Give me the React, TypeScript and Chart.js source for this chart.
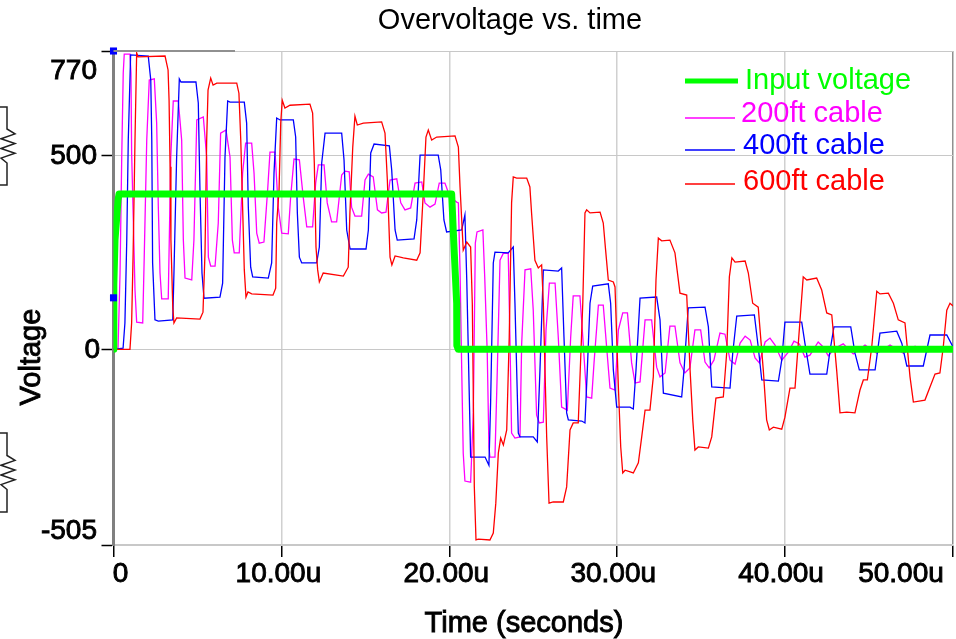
import React, { useEffect, useRef } from "react";
import { Chart, registerables } from "chart.js";

Chart.register(...registerables);

const titleText = "Overvoltage vs. time";
const xAxisLabel = "Time (seconds)";
const yAxisLabel = "Voltage";
const xTickValues = [0, 10, 20, 30, 40, 50];
const xTickLabels = ["0", "10.00u", "20.00u", "30.00u", "40.00u", "50.00u"];
const yTickValues = [-505, 0, 500, 770];
const yTickLabels = ["-505", "0", "500", "770"];
const legendLabels = ["Input voltage", "200ft cable", "400ft cable", "600ft cable"];

const tInput = [0, 0.02, 0.09, 0.27, 0.33, 20.14, 20.28, 20.44, 20.45, 20.53, 50];
const vInput = [0, 166, 282, 385, 401, 401, 264, 119, 10, 0, 0];

const t200 = [0, 0.27, 0.39, 0.49, 0.58, 0.64, 0.98, 1.04, 1.08, 1.18, 1.28, 1.38, 1.74, 1.83, 1.98, 2.13, 2.43, 2.57, 2.67, 2.77, 2.87, 3.26, 3.41, 3.56, 3.86, 4.06, 4.16, 4.26, 4.66, 4.79, 4.96, 5.35, 5.55, 5.65, 5.79, 6.05, 6.24, 6.38, 6.7, 6.94, 7.08, 7.19, 7.49, 7.69, 7.87, 8.23, 8.37, 8.53, 8.68, 8.96, 9.18, 9.32, 9.62, 9.81, 10.02, 10.41, 10.55, 10.75, 11.07, 11.3, 11.51, 11.86, 12.04, 12.2, 12.54, 12.73, 12.99, 13.29, 13.59, 13.79, 14.04, 14.18, 14.38, 14.78, 14.98, 15.18, 15.47, 15.72, 15.97, 16.23, 16.47, 16.87, 17.11, 17.36, 17.7, 17.96, 18.36, 18.55, 18.85, 19.15, 19.4, 19.74, 20.04, 20.44, 20.54, 20.64, 20.74, 20.83, 20.93, 21.27, 21.43, 21.55, 21.65, 22.0, 22.11, 22.26, 22.36, 22.42, 22.72, 22.86, 23.02, 23.22, 23.51, 23.61, 23.71, 23.91, 24.21, 24.31, 24.51, 24.85, 25.0, 25.2, 25.36, 25.6, 25.76, 25.96, 26.3, 26.49, 26.69, 27.03, 27.23, 27.38, 27.78, 27.95, 28.18, 28.48, 28.62, 28.88, 29.17, 29.37, 29.57, 29.87, 30.07, 30.33, 30.61, 30.86, 31.06, 31.36, 31.66, 32.05, 32.35, 32.55, 32.85, 33.14, 33.44, 33.74, 34.03, 34.33, 34.63, 34.97, 35.23, 35.48, 35.76, 36.12, 36.42, 36.72, 37.02, 37.32, 37.62, 37.92, 38.21, 38.47, 38.81, 39.1, 39.4, 39.8, 40.19, 40.53, 40.85, 41.18, 41.48, 41.97, 42.27, 42.57, 42.97, 43.46, 44.06, 44.76, 45.46, 46.25, 47.05, 47.74, 48.43, 49.3, 50];
const v200 = [0, 3, 197, 496, 713, 762, 762, 713, 507, 334, 153, 70, 68, 238, 540, 695, 698, 584, 367, 197, 130, 130, 496, 641, 641, 540, 282, 184, 179, 282, 592, 600, 496, 238, 215, 215, 326, 558, 566, 496, 282, 249, 249, 455, 532, 532, 455, 300, 274, 277, 411, 509, 509, 367, 300, 298, 393, 491, 489, 393, 316, 316, 429, 476, 476, 378, 329, 329, 450, 460, 458, 367, 344, 344, 437, 452, 445, 360, 352, 354, 437, 440, 378, 360, 365, 429, 432, 378, 367, 375, 429, 429, 393, 380, 378, 204, -53, -268, -340, -343, -164, 274, 303, 308, 186, -10, -252, -278, -278, -53, 230, 248, 248, 32, -216, -229, -226, 14, 205, 208, 101, -170, -190, -188, 50, 171, 171, 32, -149, -157, 32, 138, 138, 32, -123, -126, -35, 114, 114, 6, -100, -105, 50, 94, 94, -35, -87, -84, 76, 76, -46, -71, -61, 60, 60, -35, -61, -48, 50, 50, -33, -48, -28, 42, 39, -28, -38, 16, 34, 24, -22, -35, 19, 29, 11, -28, -7, 21, 14, -20, -15, 19, 6, -17, 3, 14, -12, 11, -10, 11, -10, 8, -7, 3, 0];

const t400 = [0, 0.57, 0.68, 0.79, 0.88, 1.02, 2.07, 2.22, 2.28, 2.33, 2.47, 2.67, 3.53, 3.6, 3.76, 3.92, 4.02, 4.91, 5.05, 5.15, 5.27, 5.39, 6.34, 6.5, 6.64, 6.8, 6.94, 7.79, 7.93, 8.03, 8.17, 8.29, 9.22, 9.42, 9.56, 9.72, 9.92, 10.71, 10.85, 10.95, 11.07, 11.21, 12.1, 12.26, 12.4, 12.6, 13.59, 13.73, 13.89, 14.09, 15.04, 15.18, 15.32, 15.52, 16.43, 16.57, 16.77, 16.9, 17.9, 18.06, 18.26, 18.45, 19.34, 19.49, 19.68, 19.84, 20.74, 20.93, 21.04, 21.2, 21.27, 22.13, 22.36, 22.46, 22.62, 22.72, 23.51, 23.81, 23.91, 24.11, 24.21, 25.0, 25.24, 25.4, 25.6, 26.49, 26.69, 26.83, 26.99, 27.09, 27.89, 28.08, 28.22, 28.38, 28.54, 29.47, 29.61, 29.77, 29.97, 30.76, 30.96, 31.12, 31.36, 32.35, 32.55, 32.75, 33.84, 33.98, 34.23, 35.23, 35.43, 35.63, 36.72, 36.88, 37.12, 38.17, 38.4, 38.61, 39.6, 39.8, 39.99, 40.99, 41.18, 41.48, 42.48, 42.68, 42.91, 43.91, 44.16, 44.42, 45.36, 45.65, 46.65, 46.95, 47.25, 48.23, 48.63, 49.63, 50];
const v400 = [0, 3, 68, 282, 540, 760, 757, 695, 540, 223, 76, 73, 76, 197, 496, 698, 690, 690, 636, 411, 197, 132, 135, 171, 496, 641, 638, 638, 584, 367, 212, 187, 184, 223, 455, 597, 592, 592, 548, 352, 238, 223, 223, 264, 481, 558, 558, 489, 308, 259, 259, 308, 507, 530, 525, 463, 308, 282, 285, 334, 501, 501, 501, 463, 334, 303, 308, 347, 179, -139, -278, -278, -299, -139, 223, 251, 249, 264, 119, -216, -226, -226, -239, -53, 205, 202, 210, 32, -164, -182, -185, -190, -53, 119, 163, 169, 119, -53, -149, -149, -154, -53, 132, 135, 76, -113, -123, -53, 107, 109, 58, -97, -100, -10, 86, 89, 6, -79, -82, -28, 70, 70, 16, -64, -64, -2, 58, 58, -10, -53, -53, 42, 47, 16, -43, -43, 37, 37, 6];

const t600 = [0, 0.98, 1.08, 1.17, 1.28, 1.38, 1.46, 3.07, 3.25, 3.31, 3.37, 3.42, 3.53, 3.6, 3.76, 5.15, 5.33, 5.45, 5.55, 5.63, 5.79, 5.93, 6.15, 7.34, 7.47, 7.58, 7.69, 7.79, 7.89, 8.01, 8.23, 9.5, 9.66, 9.72, 9.86, 9.96, 10.05, 10.21, 10.51, 11.7, 11.86, 11.96, 12.06, 12.16, 12.26, 12.49, 13.69, 13.98, 14.08, 14.25, 14.38, 14.52, 14.88, 15.97, 16.17, 16.31, 16.47, 16.58, 16.77, 17.26, 18.06, 18.26, 18.45, 18.61, 18.75, 18.95, 19.25, 20.34, 20.54, 20.64, 20.74, 20.83, 21.04, 21.27, 21.37, 21.49, 21.59, 21.73, 22.42, 22.62, 22.77, 22.92, 23.06, 23.22, 23.42, 23.57, 23.71, 23.81, 24.01, 24.61, 24.8, 24.9, 25.1, 25.3, 25.5, 25.6, 25.8, 25.94, 26.19, 26.79, 26.99, 27.19, 27.38, 27.68, 27.95, 28.08, 28.18, 28.38, 28.98, 29.17, 29.31, 29.47, 29.77, 29.87, 30.07, 30.21, 30.33, 30.47, 30.96, 31.26, 31.46, 31.66, 31.95, 32.15, 32.31, 32.45, 32.65, 33.14, 33.44, 33.74, 34.14, 34.34, 34.5, 34.63, 34.83, 35.43, 35.63, 35.88, 36.32, 36.52, 36.68, 36.83, 37.02, 37.62, 37.81, 38.07, 38.4, 38.7, 38.9, 39.06, 39.3, 39.8, 39.99, 40.29, 40.59, 40.89, 41.08, 41.29, 41.88, 42.18, 42.48, 42.78, 43.07, 43.27, 43.67, 44.16, 44.46, 44.66, 44.9, 45.16, 45.46, 45.65, 46.15, 46.45, 46.74, 47.14, 47.44, 47.64, 48.33, 48.63, 48.93, 49.22, 49.42, 49.63, 49.82, 50];
const v600 = [0, 0, 68, 249, 540, 765, 755, 757, 721, 643, 471, 282, 109, 68, 81, 78, 96, 249, 540, 669, 700, 682, 687, 687, 661, 540, 367, 205, 135, 148, 143, 140, 158, 326, 411, 584, 643, 623, 630, 633, 610, 481, 264, 205, 174, 197, 189, 212, 352, 522, 602, 579, 584, 587, 558, 437, 238, 218, 241, 236, 230, 249, 403, 548, 566, 540, 548, 551, 522, 419, 334, 256, 277, 264, 119, -355, -492, -490, -492, -474, -397, -268, -229, -247, -208, 32, 378, 445, 442, 442, 419, 352, 230, 210, 218, 119, -226, -397, -394, -394, -355, -208, -190, -190, 119, 352, 360, 352, 354, 326, 256, 179, 174, 161, -97, -252, -319, -312, -319, -293, -226, -157, -157, -71, 179, 287, 280, 282, 249, 145, 140, -53, -182, -260, -252, -255, -226, -126, -123, -10, 187, 236, 225, 228, 197, 119, 109, -53, -182, -208, -201, -206, -175, -100, -100, 76, 187, 179, 184, 153, 94, 89, -53, -164, -162, -164, -105, -79, -79, 6, 150, 143, 145, 119, 76, 68, -71, -136, -131, -97, -64, -61, 6, 101, 119, 112];

const tMarkers = [0, 0];
const vMarkers = [770, 133];

const zip = (t: number[], v: number[]) => t.map((x, i) => ({ x, y: v[i] }));

const FONT = '"Liberation Sans", Arial, sans-serif';
const GREEN = "#00ff00";
const MAGENTA = "#ff00ff";
const BLUE = "#0000ff";
const RED = "#ff0000";

function heavyText(ctx: CanvasRenderingContext2D, s: string, x: number, y: number) {
  ctx.fillText(s, x, y);
  ctx.lineWidth = 0.9;
  ctx.strokeStyle = ctx.fillStyle as string;
  ctx.strokeText(s, x, y);
}

function drawResistor(ctx: CanvasRenderingContext2D, top: number, bottom: number) {
  const mid = (top + bottom) / 2;
  const zigTop = mid - 17;
  const zigBottom = mid + 17;
  ctx.strokeStyle = "#222222";
  ctx.lineWidth = 1.5;
  ctx.beginPath();
  ctx.moveTo(0, top);
  ctx.lineTo(7, top);
  ctx.lineTo(7, zigTop);
  const n = 6;
  for (let i = 1; i <= n; i++) {
    const yy = zigTop + ((zigBottom - zigTop) * i) / (n + 1);
    ctx.lineTo(i % 2 ? 15 : 1, yy);
  }
  ctx.lineTo(7, zigBottom);
  ctx.lineTo(7, bottom);
  ctx.lineTo(0, bottom);
  ctx.stroke();
}

const decorations = {
  id: "decorations",
  afterDraw(chart: any) {
    const { ctx, scales } = chart;
    const xs = scales.x;
    const ys = scales.y;
    ctx.save();
    drawResistor(ctx, 107, 185);
    drawResistor(ctx, 433, 512);

    ctx.strokeStyle = "#909090";
    ctx.lineWidth = 2;
    ctx.beginPath();
    ctx.moveTo(xs.left, ys.top);
    ctx.lineTo(235, ys.top);
    ctx.stroke();

    ctx.fillStyle = "#000000";
    ctx.textBaseline = "middle";
    ctx.textAlign = "center";
    ctx.font = `28px ${FONT}`;
    const xShift = [7, -3, -3, -4, -4, -52];
    xTickValues.forEach((v, i) => {
      heavyText(ctx, xTickLabels[i], xs.getPixelForValue(v) + xShift[i], 574);
    });
    ctx.textAlign = "right";
    const yShift: Record<string, number> = { "770": 20, "500": 1, "0": 1, "-505": -14 };
    const yRight: Record<string, number> = { "770": 97, "500": 97, "0": 100, "-505": 97 };
    yTickValues.forEach((v, i) => {
      const s = yTickLabels[i];
      heavyText(ctx, s, yRight[s], ys.getPixelForValue(v) + yShift[s]);
    });

    ctx.textAlign = "center";
    ctx.font = `29px ${FONT}`;
    heavyText(ctx, xAxisLabel, 524, 624);
    ctx.save();
    ctx.translate(32, 357);
    ctx.rotate(-Math.PI / 2);
    heavyText(ctx, yAxisLabel, 0, 0);
    ctx.restore();

    ctx.font = `29px ${FONT}`;
    ctx.fillStyle = "#000000";
    ctx.fillText(titleText, 510, 21);

    const colours = [GREEN, MAGENTA, BLUE, RED];
    const lineY = [81, 118, 150, 184];
    const lineW = [5, 1.3, 1.3, 1.3];
    const lineEnd = [738, 735, 735, 735];
    const textX = [745, 741, 743, 743];
    const textY = [81, 114, 146, 182];
    ctx.textAlign = "left";
    ctx.font = `29px ${FONT}`;
    legendLabels.forEach((s, i) => {
      ctx.strokeStyle = colours[i];
      ctx.lineWidth = lineW[i];
      ctx.beginPath();
      ctx.moveTo(685, lineY[i]);
      ctx.lineTo(lineEnd[i], lineY[i]);
      ctx.stroke();
      ctx.fillStyle = colours[i];
      ctx.fillText(s, textX[i], textY[i]);
    });
    ctx.restore();
  },
};

const trace = (label: string, t: number[], v: number[], color: string, width: number) => ({
  type: "line" as const,
  label,
  data: zip(t, v),
  borderColor: color,
  backgroundColor: color,
  borderWidth: width,
  pointRadius: 0,
  tension: 0,
  fill: false,
});

export default function App() {
  const ref = useRef<HTMLCanvasElement>(null);
  useEffect(() => {
    document.body.style.margin = "0";
    const chart = new Chart(ref.current!, {
      type: "line",
      data: {
        datasets: [
          { ...trace("Markers", tMarkers, vMarkers, BLUE, 0), showLine: false, pointRadius: 5, pointStyle: "rect", clip: false, order: 0 },
          { ...trace(legendLabels[0], tInput, vInput, GREEN, 7), borderJoinStyle: "round", order: 1 },
          { ...trace(legendLabels[3], t600, v600, RED, 1.3), order: 2 },
          { ...trace(legendLabels[2], t400, v400, BLUE, 1.3), order: 3 },
          { ...trace(legendLabels[1], t200, v200, MAGENTA, 1.3), order: 4 },
        ] as any,
      },
      options: {
        animation: false,
        responsive: false,
        parsing: false,
        layout: { autoPadding: false, padding: { top: 51, right: 3, left: 0, bottom: 0 } },
        plugins: { legend: { display: false }, title: { display: false }, tooltip: { enabled: false } },
        scales: {
          x: {
            type: "linear",
            min: 0,
            max: 50,
            afterBuildTicks: (s: any) => {
              s.ticks = xTickValues.map((value) => ({ value }));
            },
            afterFit: (s: any) => {
              s.height = 94;
            },
            ticks: { display: false },
            border: { color: "#c8c8c8", width: 1.5 },
            grid: {
              color: (c: any) => (c.tick?.value === 50 ? "#909090" : "#d0d0d0"),
              lineWidth: 1.5,
              tickColor: "#000000",
              tickLength: 12,
              tickWidth: 1.5,
            },
          },
          y: {
            type: "linear",
            min: -505,
            max: 770,
            afterBuildTicks: (s: any) => {
              s.ticks = yTickValues.map((value) => ({ value }));
            },
            afterFit: (s: any) => {
              s.width = 113.5;
            },
            ticks: { display: false },
            border: { color: "#808080", width: 3 },
            grid: {
              color: "#c8c8c8",
              lineWidth: 1,
              tickColor: "#000000",
              tickLength: 12,
              tickWidth: 1.5,
            },
          },
        },
      },
      plugins: [decorations],
    } as any);
    return () => chart.destroy();
  }, []);
  return <canvas ref={ref} width={956} height={639} style={{ display: "block" }} />;
}
